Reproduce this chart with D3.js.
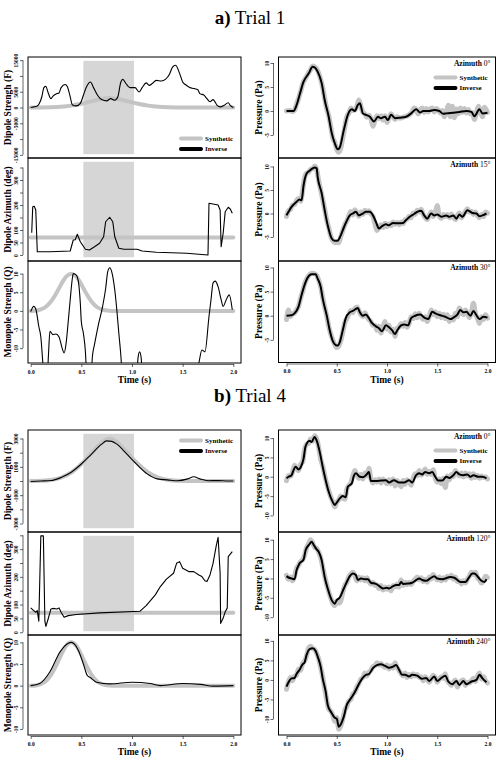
<!DOCTYPE html>
<html lang="en">
<head>
<meta charset="UTF-8">
<title>Trial 1 / Trial 4</title>
<script src="https://cdn.jsdelivr.net/npm/d3@7"></script>
<style>
  body { margin: 0; background: #fff; }
  text { font-family: "Liberation Serif", "Times New Roman", serif; }
</style>
</head>
<body>
<script>
const W = 502, H = 777;

// ---- data: [time (s), value] pairs ----
const timeTicks = [0, 0.5, 1.0, 1.5, 2.0];

// synthetic sources (same for both trials)
const dipoleSynthetic = [[0,0],[0.1,20],[0.2,75],[0.3,240],[0.4,600],[0.5,1200],[0.6,1950],[0.7,2700],[0.78,3000],[0.86,2700],[0.96,1950],[1.06,1200],[1.16,600],[1.26,240],[1.36,75],[1.46,20],[1.56,0],[2.0,0]];
const azimuthSynthetic = [[0,70],[2.0,70]];
const monopoleSynthetic = [[0,0],[0.05,0.05],[0.1,0.4],[0.15,1.1],[0.2,2.5],[0.25,4.6],[0.3,7.1],[0.35,9.2],[0.4,10],[0.45,9.2],[0.5,7.1],[0.55,4.6],[0.6,2.5],[0.65,1.1],[0.7,0.4],[0.75,0.1],[0.8,0],[2.0,0]];

// trial 1 inverse sources
const t1DipoleInverse = [[0,0],[0.03,200],[0.06,400],[0.085,1300],[0.11,3400],[0.13,6300],[0.15,6700],[0.17,4900],[0.2,2800],[0.22,3600],[0.26,4400],[0.28,4600],[0.3,6300],[0.34,7300],[0.36,6700],[0.39,3400],[0.41,900],[0.45,500],[0.49,1300],[0.52,3900],[0.55,6500],[0.59,8100],[0.62,6300],[0.66,3900],[0.7,2500],[0.75,2100],[0.79,2800],[0.83,2300],[0.86,3400],[0.89,8100],[0.91,8900],[0.94,7600],[0.98,6300],[1.03,6300],[1.07,4900],[1.1,6300],[1.14,7800],[1.17,7000],[1.2,7600],[1.24,8600],[1.29,8400],[1.33,8900],[1.37,10500],[1.4,12800],[1.43,13400],[1.47,10800],[1.5,8100],[1.53,7200],[1.57,6300],[1.61,6000],[1.65,5600],[1.67,4400],[1.71,3900],[1.74,2800],[1.77,1800],[1.8,2500],[1.84,700],[1.87,200],[1.91,700],[1.95,1500],[1.97,700],[2.0,0]];
const t1AzimuthInverse = [[0.01,89],[0.02,193],[0.035,195],[0.05,180],[0.065,13],[0.19,13],[0.39,16],[0.42,60],[0.44,61],[0.46,83],[0.49,53],[0.54,23],[0.58,20],[0.63,33],[0.68,47],[0.72,73],[0.74,133],[0.78,151],[0.81,133],[0.83,73],[0.87,27],[0.92,23],[1.05,23],[1.1,16],[1.24,11],[1.54,7],[1.75,0],[1.76,207],[1.85,200],[1.87,180],[1.88,33],[1.9,87],[1.92,173],[1.95,191],[1.97,184],[1.99,167]];
const t1MonopoleInverse = [[0,-0.2],[0.03,1.2],[0.05,0.5],[0.08,-4.2],[0.1,-7],[0.12,-14],[0.14,-20],[0.16,-20],[0.175,-12],[0.19,-5.5],[0.22,-6.4],[0.25,-6.2],[0.28,-7],[0.31,-10],[0.33,-11.3],[0.35,-8.6],[0.37,-3],[0.39,3],[0.41,8.5],[0.42,10],[0.45,9.6],[0.47,8],[0.49,2],[0.5,-3],[0.52,-6],[0.54,-11],[0.55,-16],[0.57,-22],[0.59,-20],[0.61,-12],[0.63,-9],[0.67,-3.5],[0.71,1.2],[0.74,6],[0.76,10.5],[0.78,11.6],[0.8,10.5],[0.83,5.6],[0.85,0.3],[0.87,-6],[0.89,-12],[0.91,-20],[0.95,-22],[0.99,-15],[1.0,-14.5],[1.01,-16],[1.04,-20],[1.06,-12.5],[1.075,-11],[1.09,-12.5],[1.11,-20],[1.3,-25],[1.6,-20],[1.66,-14],[1.69,-10.5],[1.72,-11],[1.76,-1.5],[1.78,3],[1.8,7.5],[1.82,8],[1.85,6.5],[1.88,3],[1.9,1.2],[1.93,3],[1.96,4.3],[1.99,0.3]];

// trial 4 inverse sources
const t4DipoleInverse = [[0,-30],[0.1,0],[0.2,30],[0.3,250],[0.4,620],[0.5,1200],[0.6,1900],[0.7,2600],[0.75,2830],[0.8,2800],[0.85,2600],[0.95,1900],[1.05,1150],[1.15,500],[1.25,150],[1.35,80],[1.45,20],[1.55,150],[1.61,300],[1.67,150],[1.75,20],[1.85,30],[1.95,0],[2.0,0]];
const t4AzimuthInverse = [[0,88],[0.03,78],[0.05,72],[0.065,78],[0.08,40],[0.1,348],[0.125,348],[0.14,40],[0.15,21],[0.17,45],[0.2,84],[0.22,86],[0.26,84],[0.28,88],[0.3,72],[0.33,54],[0.37,60],[0.45,64],[0.68,70],[1.08,76],[1.14,96],[1.23,135],[1.28,165],[1.34,192],[1.41,213],[1.44,249],[1.47,255],[1.5,231],[1.56,219],[1.61,219],[1.66,207],[1.69,201],[1.72,186],[1.74,183],[1.77,207],[1.8,249],[1.83,309],[1.85,343],[1.87,213],[1.875,32],[1.9,51],[1.92,74],[1.94,87],[1.95,273],[1.99,291]];
const t4MonopoleInverse = [[0,0],[0.09,0.5],[0.19,3.2],[0.29,7.8],[0.37,9.8],[0.4,10],[0.47,8.2],[0.52,5],[0.56,2.3],[0.58,2],[0.65,0.8],[0.78,0.4],[1.0,0.8],[1.18,0.5],[1.28,0],[1.5,0.5],[1.68,0.3],[1.8,-0.1],[2.0,0]];

// trial 1 pressure (azimuth 0, 15, 30 deg)
const t1Az0Synthetic = [[0,0],[0.03,0.1],[0.06,-0.1],[0.08,0.2],[0.1,1.4],[0.12,2.6],[0.14,4.0],[0.16,5.6],[0.18,6.5],[0.2,7.2],[0.22,8.0],[0.24,8.6],[0.26,9.4],[0.28,9.2],[0.3,8.8],[0.32,7.9],[0.34,6.6],[0.36,4.9],[0.38,2.6],[0.4,0.5],[0.42,-1.0],[0.44,-3.2],[0.46,-5.6],[0.48,-6.5],[0.5,-8.0],[0.52,-8.6],[0.54,-7.8],[0.56,-5.6],[0.58,-3.4],[0.6,-1.2],[0.62,-0.5],[0.64,0.6],[0.66,0.1],[0.68,0.2],[0.7,1.0],[0.72,2.3],[0.74,1.0],[0.76,-0.3],[0.78,-0.6],[0.8,-1.3],[0.82,-0.9],[0.84,-1.6],[0.86,-3.2],[0.88,-2.0],[0.9,-1.0],[0.92,-1.6],[0.94,-1.0],[0.96,-1.9],[0.98,-1.0],[1.0,-2.4],[1.02,-1.5],[1.04,-0.6],[1.06,-1.2],[1.08,-1.8],[1.1,-1.2],[1.13,-1.5],[1.16,-1.3],[1.19,-1.1],[1.22,-0.8],[1.25,-0.2],[1.27,0.6],[1.29,0.3],[1.31,-0.6],[1.33,0.2],[1.35,0.6],[1.37,-0.3],[1.39,0.5],[1.41,-0.2],[1.43,0.4],[1.45,0.6],[1.47,-0.2],[1.49,0.5],[1.51,0.2],[1.53,-0.4],[1.55,0.1],[1.57,-1.2],[1.59,-0.2],[1.61,1.2],[1.63,-1.2],[1.65,1.0],[1.67,-1.4],[1.69,0.4],[1.71,-0.6],[1.73,0.6],[1.75,-0.3],[1.77,0.5],[1.79,-0.4],[1.81,0.3],[1.83,-0.6],[1.85,-0.3],[1.87,-1.8],[1.89,-0.4],[1.91,1.0],[1.93,-0.2],[1.95,-1.2],[1.97,0.8],[2.0,-0.3]];
const t1Az0Inverse = [[0,0],[0.07,0],[0.1,1.2],[0.135,3.7],[0.17,6.1],[0.22,7.8],[0.26,9.2],[0.28,9.1],[0.31,8.2],[0.35,5.8],[0.38,2.3],[0.42,-1.2],[0.45,-4.6],[0.48,-6.7],[0.51,-8.0],[0.53,-7.6],[0.57,-4.0],[0.61,-0.8],[0.65,0.35],[0.68,0],[0.71,1.25],[0.73,1.6],[0.76,-0.5],[0.79,-0.8],[0.83,-1.2],[0.87,-2.2],[0.91,-1.2],[0.94,-1.5],[0.98,-1.2],[1.01,-1.9],[1.04,-0.8],[1.08,-1.5],[1.13,-1.4],[1.19,-1.2],[1.24,-0.5],[1.29,0.35],[1.33,-0.3],[1.36,0],[1.42,0],[1.47,0.2],[1.52,0],[1.56,-0.6],[1.59,-0.5],[1.66,-0.35],[1.72,-0.2],[1.79,0],[1.84,-0.2],[1.87,-1.1],[1.92,0.35],[1.95,-0.5],[2.0,-0.35]];
const t1Az15Synthetic = [[0,-0.6],[0.02,0.6],[0.04,0.9],[0.06,1.8],[0.08,1.9],[0.1,2.8],[0.12,3.2],[0.14,2.6],[0.16,4.8],[0.18,7.6],[0.2,8.6],[0.22,8.8],[0.24,9.4],[0.26,9.5],[0.28,10.1],[0.3,9.4],[0.32,7.0],[0.34,5.0],[0.36,3.0],[0.38,0.9],[0.4,-1.4],[0.42,-3.0],[0.44,-4.8],[0.46,-5.8],[0.48,-6.2],[0.5,-6.0],[0.52,-6.2],[0.54,-4.9],[0.56,-3.6],[0.58,-2.4],[0.6,-1.6],[0.62,-0.5],[0.64,0.4],[0.66,-0.3],[0.68,0.8],[0.7,0.2],[0.72,-0.6],[0.74,0.3],[0.76,-0.2],[0.78,0.7],[0.8,0.2],[0.82,0.6],[0.84,-0.1],[0.86,-0.6],[0.88,-2.2],[0.9,-3.6],[0.92,-3.0],[0.94,-2.4],[0.96,-3.0],[0.98,-2.1],[1.0,-2.8],[1.02,-2.2],[1.04,-2.6],[1.06,-1.8],[1.08,-2.3],[1.1,-1.9],[1.12,-2.4],[1.14,-1.8],[1.16,-2.2],[1.18,-1.3],[1.2,-1.2],[1.22,-0.6],[1.24,-0.9],[1.26,0.1],[1.28,-0.2],[1.3,0.7],[1.32,0.3],[1.34,0.9],[1.36,-0.2],[1.38,-0.9],[1.4,-1.3],[1.42,-0.4],[1.44,0.3],[1.46,-0.7],[1.48,0.1],[1.5,1.7],[1.52,-0.6],[1.54,-1.0],[1.56,-0.2],[1.58,-0.7],[1.6,-0.2],[1.62,-0.9],[1.64,-0.1],[1.66,-0.8],[1.68,-1.3],[1.7,-0.4],[1.72,0.1],[1.74,-0.9],[1.76,-0.3],[1.78,0.4],[1.8,1.0],[1.82,0.3],[1.84,0.5],[1.86,-0.2],[1.88,0.3],[1.9,-0.4],[1.92,-0.9],[1.94,-0.2],[1.96,-0.7],[1.98,0.3],[2.0,0.1]];
const t1Az15Inverse = [[0,-0.4],[0.02,0.35],[0.05,1.4],[0.1,2.5],[0.13,3.0],[0.15,2.8],[0.17,6.0],[0.2,8.5],[0.23,9.1],[0.26,9.6],[0.28,9.8],[0.3,9.6],[0.31,7.8],[0.35,4.3],[0.38,0.7],[0.41,-2.5],[0.45,-5.3],[0.48,-5.8],[0.51,-5.8],[0.53,-5.1],[0.58,-2.5],[0.63,-0.4],[0.66,0],[0.69,0.35],[0.72,-0.4],[0.76,0],[0.79,0.35],[0.83,0.35],[0.86,-0.4],[0.89,-1.8],[0.92,-3.2],[0.95,-2.7],[0.99,-2.3],[1.02,-2.5],[1.06,-2.0],[1.11,-2.1],[1.16,-2.0],[1.19,-1.4],[1.22,-0.8],[1.27,-0.1],[1.3,0.35],[1.34,0.6],[1.37,-0.4],[1.4,-1.1],[1.44,0],[1.47,-0.4],[1.5,-0.2],[1.54,-0.7],[1.59,-0.4],[1.62,-0.7],[1.66,-0.4],[1.69,-1.1],[1.72,-0.2],[1.75,-0.7],[1.8,0.7],[1.85,0.1],[1.89,0],[1.92,-0.6],[1.95,-0.4],[1.99,0]];
const t1Az30Synthetic = [[0,-0.8],[0.02,1.2],[0.04,-0.2],[0.06,0.4],[0.08,0.5],[0.1,1.2],[0.12,2.0],[0.14,3.6],[0.16,5.0],[0.18,6.6],[0.2,7.6],[0.22,8.3],[0.24,8.7],[0.26,8.8],[0.28,8.7],[0.3,8.4],[0.32,7.4],[0.34,6.0],[0.36,3.8],[0.38,1.8],[0.4,0.0],[0.42,-2.2],[0.44,-3.8],[0.46,-5.0],[0.48,-6.0],[0.5,-6.6],[0.52,-6.3],[0.54,-5.2],[0.56,-3.4],[0.58,-1.4],[0.6,-0.6],[0.62,0.3],[0.64,1.1],[0.66,0.6],[0.68,1.5],[0.7,1.8],[0.72,1.1],[0.74,0.2],[0.76,-0.2],[0.78,0.6],[0.8,-0.2],[0.82,-0.8],[0.84,-1.2],[0.86,-2.0],[0.88,-2.0],[0.9,-3.0],[0.92,-2.2],[0.94,-3.6],[0.96,-2.4],[0.98,-1.2],[1.0,-2.8],[1.02,-2.0],[1.04,-3.4],[1.06,-2.8],[1.08,-4.3],[1.1,-2.6],[1.12,-2.4],[1.14,-1.6],[1.16,-2.2],[1.18,-1.4],[1.2,-2.4],[1.22,-1.6],[1.24,-0.2],[1.26,-0.6],[1.28,0.4],[1.3,-0.4],[1.32,0.5],[1.34,-0.2],[1.36,-0.8],[1.38,-0.2],[1.4,-1.2],[1.42,-0.2],[1.44,1.2],[1.46,0.2],[1.48,0.8],[1.5,-0.2],[1.52,0.5],[1.54,-0.4],[1.56,0.3],[1.58,-0.6],[1.6,0.2],[1.62,-1.2],[1.64,-0.3],[1.66,-0.9],[1.68,0.5],[1.7,-0.2],[1.72,1.6],[1.74,0.8],[1.76,0.2],[1.78,1.2],[1.8,0.5],[1.82,-0.4],[1.84,0.6],[1.86,2.6],[1.88,0.4],[1.9,-0.5],[1.92,-1.6],[1.94,-0.2],[1.96,-0.8],[1.98,0.2],[2.0,-0.5]];
const t1Az30Inverse = [[0,0],[0.05,0.1],[0.08,0.5],[0.12,1.9],[0.15,4.3],[0.18,6.4],[0.21,7.9],[0.25,8.6],[0.29,8.6],[0.31,7.7],[0.34,6.0],[0.36,3.6],[0.4,0.1],[0.43,-3.0],[0.46,-5.2],[0.49,-6.1],[0.51,-6.2],[0.53,-5.5],[0.56,-3.0],[0.59,-0.5],[0.63,0.7],[0.66,1.0],[0.69,1.4],[0.71,1.6],[0.73,0.7],[0.76,0],[0.79,0.25],[0.82,-0.5],[0.85,-1.5],[0.89,-2.2],[0.92,-2.6],[0.95,-3.2],[0.99,-2.0],[1.02,-2.4],[1.05,-3.0],[1.08,-3.8],[1.1,-3.1],[1.14,-2.0],[1.17,-1.8],[1.21,-2.0],[1.24,-0.5],[1.28,0],[1.33,0.25],[1.38,-0.5],[1.41,-0.7],[1.45,0.8],[1.48,0.5],[1.53,0.1],[1.58,-0.2],[1.63,-0.7],[1.66,-0.4],[1.7,0.25],[1.73,1.2],[1.76,0.7],[1.79,0.8],[1.83,0],[1.86,1.0],[1.89,0.1],[1.92,-0.7],[1.96,-0.2],[2.0,-0.4]];

// trial 4 pressure (azimuth 0, 120, 240 deg)
const t4Az0Synthetic = [[0,-1.0],[0.02,0.3],[0.04,0.1],[0.06,1.2],[0.08,3.0],[0.1,2.2],[0.12,1.6],[0.14,3.2],[0.16,3.8],[0.18,7.2],[0.2,8.4],[0.22,8.6],[0.24,9.8],[0.26,9.2],[0.28,10.6],[0.3,9.8],[0.32,7.6],[0.34,4.6],[0.36,2.8],[0.38,0.4],[0.4,-1.8],[0.42,-3.6],[0.44,-5.2],[0.46,-6.4],[0.48,-7.8],[0.5,-6.6],[0.52,-6.0],[0.54,-5.0],[0.56,-5.6],[0.58,-5.8],[0.6,-3.2],[0.62,-2.2],[0.64,-1.6],[0.66,0.2],[0.68,1.6],[0.7,0.6],[0.72,-0.4],[0.74,0.6],[0.76,-0.6],[0.78,1.0],[0.8,0.2],[0.82,2.2],[0.84,-0.6],[0.86,-1.6],[0.88,-0.8],[0.9,-1.4],[0.92,-0.6],[0.94,-1.6],[0.96,-0.6],[0.98,-1.2],[1.0,-1.8],[1.02,-0.8],[1.04,-1.8],[1.06,-0.6],[1.08,-2.4],[1.1,-1.0],[1.12,-1.8],[1.14,-2.6],[1.16,-1.0],[1.18,-2.0],[1.2,-0.8],[1.22,-1.4],[1.24,-2.2],[1.26,-0.4],[1.28,0.8],[1.3,0.2],[1.32,1.6],[1.34,0.4],[1.36,1.0],[1.38,2.0],[1.4,0.6],[1.42,1.4],[1.44,0.6],[1.46,1.8],[1.48,-0.4],[1.5,-1.4],[1.52,-0.6],[1.54,-1.8],[1.56,-0.4],[1.58,-2.8],[1.6,0.2],[1.62,-0.8],[1.64,0.6],[1.66,0.0],[1.68,1.6],[1.7,0.8],[1.72,0.2],[1.74,1.0],[1.76,0.0],[1.78,1.0],[1.8,0.2],[1.82,0.8],[1.84,-0.4],[1.86,0.8],[1.88,-0.2],[1.9,0.4],[1.92,-0.4],[1.94,0.2],[1.96,-0.2],[1.98,0.0],[2.0,-0.6]];
const t4Az0Inverse = [[0,-0.4],[0.02,0],[0.05,0.4],[0.07,1.7],[0.09,2.6],[0.12,1.9],[0.14,2.4],[0.17,4.7],[0.19,7.9],[0.23,9.3],[0.25,9.0],[0.28,10.3],[0.3,9.4],[0.33,6.5],[0.36,2.6],[0.39,-0.9],[0.42,-3.9],[0.46,-6.5],[0.48,-7.3],[0.5,-6.7],[0.53,-5.6],[0.56,-5.0],[0.59,-5.3],[0.61,-2.6],[0.65,-1.7],[0.67,0.2],[0.69,0.9],[0.73,0],[0.76,-0.1],[0.79,0.4],[0.82,1.2],[0.84,-1.1],[0.89,-1.1],[0.94,-1.0],[0.99,-0.9],[1.02,-1.5],[1.07,-0.9],[1.12,-1.5],[1.17,-1.5],[1.22,-0.9],[1.25,-1.5],[1.29,0.4],[1.32,0.9],[1.35,0.6],[1.38,1.2],[1.42,0.9],[1.45,1.2],[1.48,0],[1.51,-1.0],[1.55,-1.0],[1.59,0],[1.62,-0.3],[1.66,0.4],[1.69,1.2],[1.72,0.6],[1.76,0.4],[1.8,0.6],[1.83,0],[1.86,0.4],[1.91,0],[1.95,0],[1.99,-0.4]];
const t4Az120Synthetic = [[0,0.8],[0.02,-0.2],[0.04,0.4],[0.06,-0.6],[0.08,0.6],[0.1,2.6],[0.12,3.4],[0.14,4.4],[0.16,4.8],[0.18,6.0],[0.2,8.0],[0.22,9.0],[0.24,10.0],[0.26,9.2],[0.28,8.0],[0.3,7.8],[0.32,6.8],[0.34,5.4],[0.36,3.0],[0.38,0.6],[0.4,-1.6],[0.42,-3.4],[0.44,-5.0],[0.46,-6.4],[0.48,-7.0],[0.5,-5.8],[0.52,-6.4],[0.54,-5.8],[0.56,-3.6],[0.58,-1.8],[0.6,-1.0],[0.62,0.4],[0.64,1.2],[0.66,1.6],[0.68,0.8],[0.7,-0.6],[0.72,0.4],[0.74,-0.4],[0.76,0.2],[0.78,-0.6],[0.8,0.2],[0.82,-0.8],[0.84,-1.4],[0.86,-1.0],[0.88,-1.8],[0.9,-1.6],[0.92,-2.6],[0.94,-1.8],[0.96,-3.0],[0.98,-2.2],[1.0,-2.8],[1.02,-2.2],[1.04,-3.2],[1.06,-1.8],[1.08,-2.2],[1.1,-1.4],[1.12,-2.2],[1.14,-0.4],[1.16,-1.8],[1.18,-1.0],[1.2,-1.6],[1.22,-1.0],[1.24,-1.6],[1.26,-0.8],[1.28,-0.2],[1.3,0.4],[1.32,-0.4],[1.34,0.2],[1.36,-0.8],[1.38,-0.2],[1.4,-1.0],[1.42,0.4],[1.44,-0.2],[1.46,1.0],[1.48,0.2],[1.5,-0.4],[1.52,0.4],[1.54,-0.6],[1.56,0.2],[1.58,-0.4],[1.6,0.6],[1.62,0.2],[1.64,0.8],[1.66,-0.2],[1.68,0.4],[1.7,-0.8],[1.72,-0.6],[1.74,-1.4],[1.76,-0.6],[1.78,-1.2],[1.8,-0.2],[1.82,0.6],[1.84,1.6],[1.86,1.0],[1.88,1.6],[1.9,0.2],[1.92,-0.4],[1.94,-1.2],[1.96,-0.6],[1.98,0.6],[2.0,0.2]];
const t4Az120Inverse = [[0,0.6],[0.02,0.25],[0.05,0],[0.08,-0.2],[0.1,2.1],[0.13,3.9],[0.17,4.9],[0.19,7.3],[0.23,8.9],[0.25,9.5],[0.27,8.7],[0.3,7.5],[0.32,6.9],[0.35,4.7],[0.38,0.4],[0.41,-2.6],[0.45,-5.6],[0.48,-6.5],[0.5,-5.6],[0.53,-4.9],[0.57,-2.6],[0.6,-0.9],[0.63,0.6],[0.66,1.3],[0.69,0.9],[0.71,-0.4],[0.74,0],[0.78,-0.2],[0.81,-0.2],[0.84,-1.1],[0.89,-1.4],[0.93,-2.1],[0.96,-2.6],[1.0,-2.4],[1.02,-2.6],[1.06,-2.0],[1.09,-1.7],[1.12,-1.7],[1.14,-0.9],[1.16,-1.4],[1.21,-1.3],[1.25,-1.1],[1.29,-0.4],[1.32,0],[1.35,-0.4],[1.39,-0.6],[1.43,0],[1.47,0.6],[1.5,0],[1.55,-0.2],[1.58,0],[1.63,0.4],[1.67,0.2],[1.7,-0.4],[1.73,-0.9],[1.78,-0.9],[1.81,0],[1.85,1.3],[1.87,1.3],[1.91,0.25],[1.94,-0.6],[1.97,-0.9],[1.99,-0.2]];
const t4Az240Synthetic = [[0,-2.4],[0.02,-0.4],[0.04,0.6],[0.06,-0.2],[0.08,1.0],[0.1,1.2],[0.12,2.8],[0.14,2.4],[0.16,4.2],[0.18,4.8],[0.2,6.2],[0.22,8.2],[0.24,8.6],[0.26,8.0],[0.28,7.8],[0.3,6.8],[0.32,5.4],[0.34,3.2],[0.36,0.8],[0.38,-2.2],[0.4,-5.0],[0.42,-7.4],[0.44,-8.0],[0.46,-9.0],[0.48,-10.6],[0.5,-9.6],[0.52,-12.6],[0.54,-11.8],[0.56,-10.0],[0.58,-7.8],[0.6,-6.8],[0.62,-5.4],[0.64,-5.0],[0.66,-3.6],[0.68,-3.2],[0.7,-1.8],[0.72,-1.0],[0.74,0.2],[0.76,0.6],[0.78,1.8],[0.8,1.0],[0.82,2.0],[0.84,2.4],[0.86,3.4],[0.88,3.6],[0.9,4.4],[0.92,3.8],[0.94,4.2],[0.96,3.6],[0.98,3.2],[1.0,3.8],[1.02,2.8],[1.04,3.6],[1.06,3.0],[1.08,4.4],[1.1,3.2],[1.12,2.4],[1.14,1.6],[1.16,1.0],[1.18,1.8],[1.2,0.6],[1.22,1.4],[1.24,0.8],[1.26,1.6],[1.28,1.0],[1.3,1.4],[1.32,0.6],[1.34,0.8],[1.36,-0.2],[1.38,0.8],[1.4,0.2],[1.42,-0.6],[1.44,0.4],[1.46,1.2],[1.48,0.6],[1.5,-0.6],[1.52,0.2],[1.54,0.8],[1.56,0.4],[1.58,1.6],[1.6,-0.2],[1.62,-0.8],[1.64,-1.4],[1.66,-0.6],[1.68,0.0],[1.7,-1.8],[1.72,-0.8],[1.74,-0.2],[1.76,0.0],[1.78,-1.4],[1.8,-0.6],[1.82,-0.8],[1.84,-0.2],[1.86,0.4],[1.88,-0.4],[1.9,1.0],[1.92,1.8],[1.94,0.2],[1.96,0.8],[1.98,-0.2],[2.0,-0.8]];
const t4Az240Inverse = [[0,-1.7],[0.02,-0.6],[0.05,0.4],[0.08,0.5],[0.1,1.5],[0.13,2.6],[0.16,4.0],[0.18,4.5],[0.2,6.4],[0.23,7.9],[0.26,8.1],[0.29,7.4],[0.31,6.0],[0.34,3.4],[0.36,0.4],[0.39,-3.0],[0.41,-6.4],[0.45,-8.5],[0.48,-9.7],[0.5,-9.9],[0.52,-12.0],[0.54,-11.4],[0.57,-9.4],[0.6,-6.4],[0.63,-5.1],[0.66,-4.0],[0.69,-2.6],[0.73,-0.6],[0.76,0.6],[0.79,1.3],[0.82,1.5],[0.86,3.0],[0.9,3.8],[0.94,4.0],[0.98,3.6],[1.02,3.1],[1.06,3.4],[1.09,3.8],[1.12,2.6],[1.15,1.3],[1.18,1.3],[1.22,0.9],[1.25,1.3],[1.3,1.1],[1.35,0.3],[1.39,0.5],[1.42,-0.3],[1.47,0.9],[1.5,-0.3],[1.54,0.5],[1.58,1.1],[1.61,-0.4],[1.65,-1.1],[1.69,-0.3],[1.72,-1.3],[1.76,-0.3],[1.79,-1.1],[1.84,-0.4],[1.89,0],[1.92,1.3],[1.95,0.4],[1.99,-0.6]];

// ---- layout ----
const svg = d3.select('body').append('svg')
    .attr('width', W).attr('height', H);

const LEFT = {bx0: 28, bx1: 241, range: [30.7, 233.3]};
const RIGHT = {bx0: 278.5, bx1: 495.5, range: [286.5, 487.5]};
const SYN_GREY = '#c4c4c4', SHADE = '#d6d6d6';

const panels = [
  // trial 1, left
  {col: LEFT, y0: 57, y1: 158, dom: [-16000, 16000], ticks: [-15000,-10000,-5000,0,5000,10000,15000], labels: [-15000,-5000,0,5000,15000],
   title: 'Dipole Strengh (F)', shade: [0.52, 1.02], syn: dipoleSynthetic, inv: t1DipoleInverse, legend: 'bottom'},
  {col: LEFT, y0: 158, y1: 261, dom: [-24, 388], ticks: [0,50,100,150,200,250,300,350], labels: [0,50,100,200,300],
   title: 'Dipole Azimuth (deg)', shade: [0.52, 1.02], syn: azimuthSynthetic, inv: t1AzimuthInverse, curve: d3.curveLinear},
  {col: LEFT, y0: 261, y1: 363, dom: [-14, 13.4], ticks: [-10,-5,0,5,10], labels: [-10,-5,0,5,10],
   title: 'Monopole Strengh (Q)', syn: monopoleSynthetic, inv: t1MonopoleInverse, xaxis: true},
  // trial 1, right
  {col: RIGHT, y0: 57, y1: 158, dom: [-9.8, 11.25], ticks: [-5,0,5,10], labels: [-5,0,5,10], pressure: true,
   title: 'Pressure (Pa)', syn: t1Az0Synthetic, inv: t1Az0Inverse, az: '0°', legend: 'top'},
  {col: RIGHT, y0: 158, y1: 261, dom: [-10.1, 11.8], ticks: [-5,0,5,10], labels: [-5,0,5,10], pressure: true,
   title: 'Pressure (Pa)', syn: t1Az15Synthetic, inv: t1Az15Inverse, az: '15°'},
  {col: RIGHT, y0: 261, y1: 362.5, dom: [-9.7, 11.35], ticks: [-5,0,5,10], labels: [-5,0,5,10], pressure: true,
   title: 'Pressure (Pa)', syn: t1Az30Synthetic, inv: t1Az30Inverse, az: '30°', xaxis: true},
  // trial 4, left
  {col: LEFT, y0: 430, y1: 532, dom: [-3600, 3600], ticks: [-3000,-2000,-1000,0,1000,2000,3000], labels: [-3000,-1000,1000,3000],
   title: 'Dipole Strength (F)', shade: [0.52, 1.02], syn: dipoleSynthetic, inv: t4DipoleInverse, legend: 'top'},
  {col: LEFT, y0: 532, y1: 635, dom: [-10, 362], ticks: [0,50,100,150,200,250,300,350], labels: [0,50,100,200,300],
   title: 'Dipole Azimuth (deg)', shade: [0.52, 1.02], syn: azimuthSynthetic, inv: t4AzimuthInverse, curve: d3.curveLinear},
  {col: LEFT, y0: 635, y1: 735, dom: [-11.4, 11.7], ticks: [-10,-5,0,5,10], labels: [-10,-5,0,5,10],
   title: 'Monopole Strength (Q)', syn: monopoleSynthetic, inv: t4MonopoleInverse, xaxis: true},
  // trial 4, right
  {col: RIGHT, y0: 430, y1: 532, dom: [-14.3, 12.1], ticks: [-10,-5,0,5,10], labels: [-10,-5,0,5,10], pressure: true,
   title: 'Pressure (Pa)', syn: t4Az0Synthetic, inv: t4Az0Inverse, az: '0°', legend: 'top'},
  {col: RIGHT, y0: 532, y1: 635, dom: [-14.6, 12], ticks: [-10,-5,0,5,10], labels: [-10,-5,0,5,10], pressure: true,
   title: 'Pressure (Pa)', syn: t4Az120Synthetic, inv: t4Az120Inverse, az: '120°'},
  {col: RIGHT, y0: 635, y1: 735, dom: [-14.1, 11.5], ticks: [-10,-5,0,5,10], labels: [-10,-5,0,5,10], pressure: true,
   title: 'Pressure (Pa)', syn: t4Az240Synthetic, inv: t4Az240Inverse, az: '240°', xaxis: true}
];

panels.forEach((p, i) => drawPanel(p, i));

function drawPanel(p, i) {
  const c = p.col;
  const x = d3.scaleLinear().domain([0, 2]).range(c.range);
  const y = d3.scaleLinear().domain(p.dom).range([p.y1, p.y0]);
  const g = svg.append('g');

  const clipId = 'clip' + i;
  svg.append('clipPath').attr('id', clipId).append('rect')
      .attr('x', c.bx0).attr('y', p.y0)
      .attr('width', c.bx1 - c.bx0).attr('height', p.y1 - p.y0);

  // shaded time window
  if (p.shade) {
    g.append('rect')
        .attr('x', x(p.shade[0])).attr('width', x(p.shade[1]) - x(p.shade[0]))
        .attr('y', p.y0 + 3.8).attr('height', p.y1 - p.y0 - 7.6)
        .attr('fill', SHADE);
  }

  const line = d3.line()
      .x(d => x(d[0])).y(d => y(d[1]))
      .curve(p.curve || d3.curveMonotoneX);
  const lines = g.append('g').attr('clip-path', 'url(#' + clipId + ')');
  lines.append('path').datum(p.syn).attr('d', line)
      .attr('fill', 'none').attr('stroke', SYN_GREY)
      .attr('stroke-width', p.pressure ? 5 : 4).attr('stroke-linejoin', 'round').attr('stroke-linecap', 'round');
  lines.append('path').datum(p.inv).attr('d', line)
      .attr('fill', 'none').attr('stroke', '#000')
      .attr('stroke-width', p.pressure ? 2 : 1.1).attr('stroke-linejoin', 'round');

  // frame
  g.append('rect')
      .attr('x', c.bx0).attr('y', p.y0)
      .attr('width', c.bx1 - c.bx0).attr('height', p.y1 - p.y0)
      .attr('fill', 'none').attr('stroke', '#000').attr('stroke-width', 1);

  // y axis
  const yAxis = d3.axisLeft(y)
      .tickValues(p.ticks)
      .tickSize(3).tickSizeOuter(0)
      .tickFormat(d => p.labels.includes(d) ? String(d) : '');
  const ya = g.append('g').attr('transform', 'translate(' + (c.bx0 - 5) + ',0)').call(yAxis);
  ya.select('.domain').attr('d', 'M0,' + y(d3.min(p.ticks)) + 'V' + y(d3.max(p.ticks))).attr('stroke-width', 0.6);
  ya.selectAll('.tick line').attr('stroke-width', 0.6);
  ya.selectAll('text')
      .attr('transform', 'rotate(-90)')
      .attr('x', 0).attr('y', -5).attr('dy', 0)
      .attr('text-anchor', 'middle')
      .style('font-family', '"Liberation Serif", serif')
      .style('font-size', '5.5px').style('font-weight', 'bold');

  // y title
  const cy = (p.y0 + p.y1) / 2;
  const tx = c === LEFT ? 8 : 259;
  g.append('text')
      .attr('transform', 'translate(' + tx + ',' + cy + ') rotate(-90)')
      .attr('text-anchor', 'middle').attr('dy', '0.35em')
      .style('font-size', '9.5px').style('font-weight', 'bold')
      .text(p.title);

  // x axis
  if (p.xaxis) {
    const xAxis = d3.axisBottom(x).tickValues(timeTicks)
        .tickSize(3).tickSizeOuter(0).tickFormat(d3.format('.1f'));
    const xa = g.append('g').attr('transform', 'translate(0,' + (p.y1 + 1) + ')').call(xAxis);
    xa.select('.domain').attr('stroke-width', 0.6);
    xa.selectAll('.tick line').attr('stroke-width', 0.6);
    xa.selectAll('text')
        .style('font-family', '"Liberation Serif", serif')
        .style('font-size', '5.5px').style('font-weight', 'bold');
    g.append('text')
        .attr('x', (c.bx0 + c.bx1) / 2).attr('y', p.y1 + 20)
        .attr('text-anchor', 'middle')
        .style('font-size', '9.5px').style('font-weight', 'bold')
        .text('Time (s)');
  }

  // azimuth note
  if (p.az) {
    const t = g.append('text')
        .attr('x', c.bx1 - 5).attr('y', p.y0 + 9)
        .attr('text-anchor', 'end')
        .style('font-size', '7.5px');
    t.append('tspan').style('font-weight', 'bold').text('Azimuth ');
    t.append('tspan').text(p.az);
  }

  // legend
  if (p.legend) {
    const lx = c.bx1 - 60;
    const ly0 = p.legend === 'bottom' ? p.y1 - 19.5 : (p.az ? p.y0 + 20.5 : p.y0 + 10.5);
    const items = [['Synthetic', SYN_GREY], ['Inverse', '#000']];
    items.forEach((it, k) => {
      const yy = ly0 + k * 10.5;
      g.append('line').attr('x1', lx).attr('x2', lx + 20)
          .attr('y1', yy).attr('y2', yy)
          .attr('stroke', it[1]).attr('stroke-width', 4).attr('stroke-linecap', 'round');
      g.append('text').attr('x', lx + 24).attr('y', yy).attr('dy', '0.33em')
          .style('font-size', '7px').style('font-weight', 'bold')
          .text(it[0]);
    });
  }
}

// trial headers
const headers = [['a)', 'Trial 1', 24], ['b)', 'Trial 4', 402]];
headers.forEach(h => {
  const t = svg.append('text')
      .attr('x', 250).attr('y', h[2])
      .attr('text-anchor', 'middle')
      .style('font-family', '"Liberation Serif", serif')
      .style('font-size', '19px');
  t.append('tspan').style('font-weight', 'bold').text(h[0]);
  t.append('tspan').text(' ' + h[1]);
});
</script>
</body>
</html>
